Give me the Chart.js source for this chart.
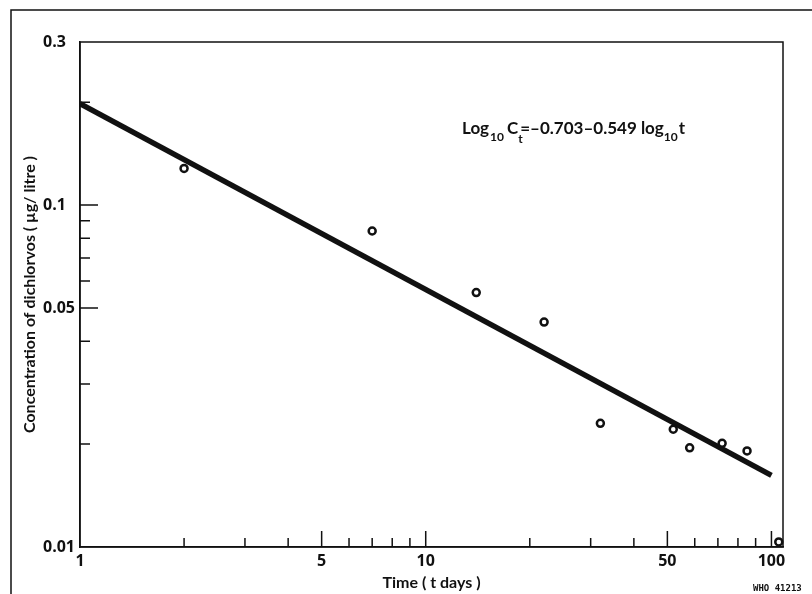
<!DOCTYPE html>
<html>
<head>
<meta charset="utf-8">
<script src="https://cdn.jsdelivr.net/npm/chart.js@4/dist/chart.umd.min.js"></script>
<style>
  html, body { margin: 0; padding: 0; background: #fff; }
  canvas { display: block; }
</style>
</head>
<body>
<canvas id="c" width="812" height="594"></canvas>
<script>
// ---- data ----
const pointDays = [2, 7, 14, 22, 32, 52, 58, 72, 85, 105];
const pointConc = [0.128, 0.084, 0.0555, 0.0455, 0.0230, 0.0221, 0.0195, 0.0201, 0.0191, 0.01035];
const fitDays = [1, 100];
const fitConc = [0.198, 0.0162];
const xMajorTicks = [1, 5, 10, 50, 100];
const xMinorTicks = [2, 3, 4, 6, 7, 8, 9, 20, 30, 40, 60, 70, 80, 90];
const yMajorTicks = [0.01, 0.05, 0.1, 0.3];
const yMinorTicks = [0.02, 0.03, 0.04, 0.06, 0.07, 0.08, 0.09, 0.2];
const xTitle = 'Time ( t days )';
const yTitle = 'Concentration of dichlorvos ( \u00b5g/ litre )';
const figureCode = 'WHO 41213';

const FONT = 'Lato';
const TICKFONT = '"Open Sans"';
const INK = '#111';

const decor = {
  id: 'decor',
  afterDraw(chart) {
    const {ctx, chartArea: a, scales: {x, y}} = chart;
    ctx.save();
    ctx.strokeStyle = INK;
    // outer frame
    ctx.lineWidth = 1.5;
    ctx.beginPath();
    ctx.moveTo(11, 594); ctx.lineTo(11, 10); ctx.lineTo(812, 10);
    ctx.stroke();
    // plot box
    ctx.strokeRect(a.left, a.top, a.right - a.left, a.bottom - a.top);
    // inward ticks
    ctx.beginPath();
    xMajorTicks.forEach(v => { if (v === 1) return; const p = x.getPixelForValue(v); ctx.moveTo(p, a.bottom); ctx.lineTo(p, a.bottom - 16); });
    xMinorTicks.forEach(v => { const p = x.getPixelForValue(v); ctx.moveTo(p, a.bottom); ctx.lineTo(p, a.bottom - 9); });
    [0.05, 0.1].forEach(v => { const p = y.getPixelForValue(v); ctx.moveTo(a.left, p); ctx.lineTo(a.left + 18, p); });
    yMinorTicks.forEach(v => { const p = y.getPixelForValue(v); ctx.moveTo(a.left, p); ctx.lineTo(a.left + 10, p); });
    ctx.stroke();

    // equation
    ctx.fillStyle = INK;
    ctx.textBaseline = 'alphabetic';
    ctx.textAlign = 'left';
    const big = `bold 17px ${FONT}`, sub = `bold 12px ${FONT}`;
    let cx = 462; const base = 134;
    const put = (t, f, dy, gap) => { ctx.font = f; ctx.fillText(t, cx, base + dy); cx += ctx.measureText(t).width + (gap || 0); };
    put('Log', big, 0, 1);
    put('10', sub, 7, 3);
    put('C', big, 0, 0);
    const tx = cx;
    put('t', sub, 9, 0);
    cx = tx + 2;
    put('=\u2013', big, 0, 0);
    put('0.703\u20130.549 ', big, 0, 0);
    put('log', big, 0, 0);
    put('10', sub, 7, 1);
    put('t', big, 0, 0);

    // figure code
    ctx.font = 'bold 9px "DejaVu Sans Mono"';
    ctx.fillText(figureCode, 753, 591);
    ctx.restore();
  }
};

new Chart(document.getElementById('c'), {
  type: 'scatter',
  data: {
    datasets: [
      {
        label: 'fit',
        data: fitDays.map((d, i) => ({x: d, y: fitConc[i]})),
        showLine: true,
        borderColor: INK,
        borderWidth: 5.5,
        pointRadius: 0,
        borderCapStyle: 'butt',
        order: 2
      },
      {
        label: 'observed',
        data: pointDays.map((d, i) => ({x: d, y: pointConc[i]})),
        pointStyle: 'circle',
        pointRadius: 3.5,
        borderWidth: 2.5,
        borderColor: INK,
        backgroundColor: '#fff',
        clip: false,
        order: 1
      }
    ]
  },
  options: {
    responsive: false,
    animation: false,
    devicePixelRatio: 1,
    layout: { padding: { left: 43, top: 42, right: 29, bottom: 0 } },
    plugins: { legend: { display: false }, tooltip: { enabled: false } },
    scales: {
      x: {
        type: 'logarithmic',
        min: 1, max: 108,
        afterBuildTicks: s => { s.ticks = xMajorTicks.map(v => ({value: v})); },
        afterFit: s => { s.height = 47; },
        grid: { display: false, drawTicks: false },
        border: { display: true, color: INK, width: 1.5 },
        ticks: {
          autoSkip: false, maxRotation: 0, padding: 5, color: INK,
          font: { family: TICKFONT, size: 16, weight: 'bold' },
          callback: v => String(v)
        },
        title: {
          display: true, text: xTitle, color: INK,
          font: { family: FONT, size: 16, weight: 'bold' },
          padding: { top: 0, bottom: 2 }
        }
      },
      y: {
        type: 'logarithmic',
        min: 0.01, max: 0.3,
        afterBuildTicks: s => { s.ticks = yMajorTicks.map(v => ({value: v})); },
        afterFit: s => { s.width = 37; },
        grid: { display: false, drawTicks: false },
        border: { display: true, color: INK, width: 1.5 },
        ticks: {
          autoSkip: false, padding: 4, color: INK, crossAlign: 'far',
          font: { family: TICKFONT, size: 16, weight: 'bold' },
          callback: v => String(v)
        },
        title: {
          display: true, text: yTitle, color: INK,
          font: { family: FONT, size: 16, weight: 'bold' },
          padding: { top: -23, bottom: 0 }
        }
      }
    }
  },
  plugins: [decor]
});
</script>
</body>
</html>
